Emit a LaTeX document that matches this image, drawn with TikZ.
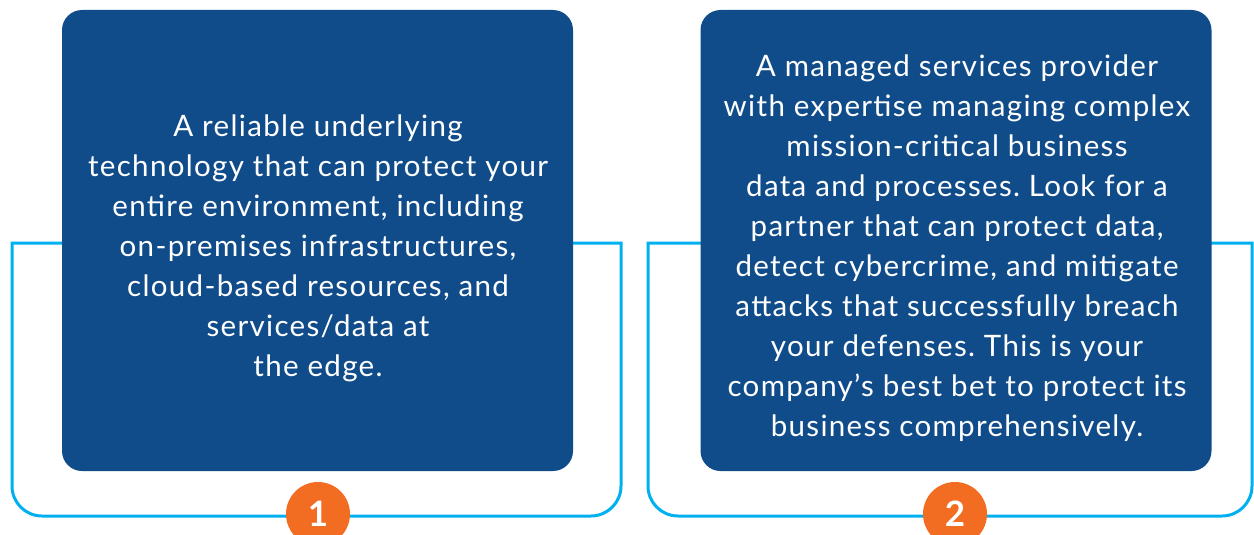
\documentclass[tikz,border=0pt]{standalone}
\usepackage{fontspec}
\setmainfont{Lato}[LetterSpace=4.5]
\usepackage{xcolor}
\usepackage{tikz}
\definecolor{boxblue}{RGB}{17, 76, 138}
\definecolor{linecyan}{RGB}{0, 176, 240}
\definecolor{steporange}{RGB}{242, 108, 33}
\usetikzlibrary{positioning, calc}
\frenchspacing

\begin{document}
\begin{tikzpicture}[
    x=1pt, y=-1pt,
    card/.style={rectangle, fill=boxblue, rounded corners=20pt, minimum width=511pt, minimum height=461pt, inner sep=0pt},
    cardtext/.style={text=white, align=center, inner sep=0pt, font=\fontsize{29.5}{40}\selectfont},
    bracket/.style={draw=linecyan, line width=3pt},
    badge/.style={circle, fill=steporange, minimum size=64pt, inner sep=0pt, text=white, font=\fontsize{35}{35}\selectfont\bfseries}
]
    \useasboundingbox (0,0) rectangle (1254,535);

    % frames behind the cards
    \draw[bracket] (12,243) -- (621,243) -- (621,400) [rounded corners=30pt] -- (621,516) -- (12,516) -- (12,400) [sharp corners] -- cycle;
    \draw[bracket] (648,243) -- (1252,243) -- (1252,400) [rounded corners=30pt] -- (1252,516) -- (648,516) -- (648,400) [sharp corners] -- cycle;

    \node[card] (card1) at (317.5, 240.5) {};
    \node[card] (card2) at (956, 240.5) {};

    \node[cardtext] (text1) at (318, 248) {A reliable underlying\\technology that can protect your\\entire environment, including\\on-premises infrastructures,\\cloud-based resources, and\\services/data at\\the edge.};
    \node[cardtext] (text2) at (957, 248) {A managed services provider\\with expertise managing complex\\mission-critical business\\data and processes. Look for a\\partner that can protect data,\\detect cybercrime, and mitigate\\attacks that successfully breach\\your defenses. This is your\\company’s best bet to protect its\\business comprehensively.};

    % step numbers
    \node[badge] (num1) at (318, 514) {1};
    \node[badge] (num2) at (955, 514) {2};
\end{tikzpicture}
\end{document}
